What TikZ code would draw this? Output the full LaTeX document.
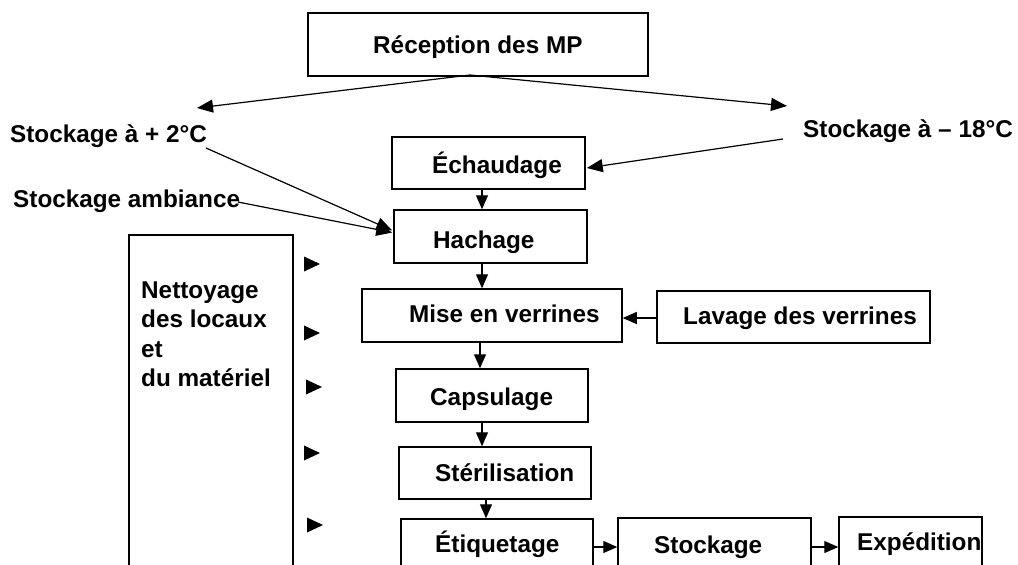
\documentclass[tikz,border=0pt]{standalone}
\usepackage{fontspec}
\setmainfont{Liberation Sans}
\usetikzlibrary{arrows.meta,calc}
\begin{document}
\begin{tikzpicture}[x=1pt,y=-1pt,
  box/.style={draw,line width=1.5pt,rectangle,inner sep=0pt},
  txt/.style={font=\bfseries\fontsize{24.3}{29.3}\selectfont,anchor=base west,inner sep=0pt},
  arr/.style={line width=1.2pt,-{Triangle[length=14pt,width=12pt]}},
  bigarr/.style={line width=1.2pt,-{Triangle[length=16pt,width=13pt]}},
  stub/.style={fill=black},
]
\clip (0,0) rectangle (1018,565);
\fill[white] (0,0) rectangle (1018,565);

% process boxes
\node[box,minimum width=340pt,minimum height=63pt] (rec) at (478,44.5) {};
\node[box,minimum width=193pt,minimum height=52pt] (ech) at (488.5,163) {};
\node[box,minimum width=193pt,minimum height=53pt] (hac) at (490.5,236.5) {};
\node[box,minimum width=260pt,minimum height=53pt] (mev) at (492,315.5) {};
\node[box,minimum width=273pt,minimum height=52pt] (lav) at (793.5,317) {};
\node[box,minimum width=192pt,minimum height=53pt] (cap) at (492,395.5) {};
\node[box,minimum width=192pt,minimum height=52pt] (ste) at (495,473) {};
\node[box,minimum width=192pt,minimum height=81pt] (eti) at (497,559.5) {};
\node[box,minimum width=193pt,minimum height=82pt] (sto) at (714.5,559) {};
\node[box,minimum width=143pt,minimum height=83pt] (exp) at (910.5,558.5) {};
\node[box,minimum width=164pt,minimum height=365pt] (net) at (211,417.5) {};

% labels
\node[txt] (trec) at (373,53) {Réception des MP};
\node[txt] (tp2) at (10,142) {Stockage à + 2°C};
\node[txt] (tm18) at (803,137) {Stockage à – 18°C};
\node[txt] (tamb) at (13,207) {Stockage ambiance};
\node[txt] (tech) at (432,173) {Échaudage};
\node[txt] (thac) at (433,248) {Hachage};
\node[txt] (tmev) at (409,322) {Mise en verrines};
\node[txt] (tlav) at (683,324) {Lavage des verrines};
\node[txt] (tcap) at (430,405) {Capsulage};
\node[txt] (tste) at (435,481) {Stérilisation};
\node[txt] (teti) at (435,552) {Étiquetage};
\node[txt] (tsto) at (654,553) {Stockage};
\node[txt] (texp) at (857,550) {Expédition};
\node[txt,anchor=north west,align=left] (tnet) at (141,281.6)
  {Nettoyage\\des locaux\\et\\du matériel};

% connector end points
\coordinate (rsplit) at (470,75);
\coordinate (p2top) at (197,108);
\coordinate (m18top) at (787,106);
\coordinate (p2out) at (206,148);
\coordinate (ambout) at (238,202);
\coordinate (m18out) at (783,139);
\coordinate (x1) at (482,0);
\coordinate (x2) at (480,0);
\coordinate (x3) at (486,0);

% distribution from reception
\draw[bigarr] (rsplit) -- (p2top);
\draw[bigarr] (rsplit) -- (m18top);
\draw[bigarr] (m18out) -- ($(ech.east)+(1,5)$);
\draw[bigarr] (p2out) -- ($(hac.west)+(-1,-6)$);
\draw[bigarr] (ambout) -- ($(hac.west)+(-1,-4)$);

% main flow
\draw[arr] (ech.south -| x1) -- (hac.north -| x1);
\draw[arr] (hac.south -| x1) -- (mev.north -| x1);
\draw[arr] (mev.south -| x2) -- (cap.north -| x2);
\draw[arr] (cap.south -| x1) -- (ste.north -| x1);
\draw[arr] (ste.south -| x3) -- (eti.north -| x3);
\draw[arr] ($(lav.west)+(0,1)$) -- ($(mev.east)+(0,2.5)$);
\draw[arr] (eti.east |- 0,547) -- (sto.west |- 0,547);
\draw[arr] (sto.east |- 0,547) -- (exp.west |- 0,547);

% cleaning pointers
\foreach \xx/\yy in {304/264, 304/333, 306/387, 304/453, 307/525}
  \fill[stub] (\xx,\yy-7.5) -- (\xx+16,\yy) -- (\xx,\yy+7.5) -- cycle;
\end{tikzpicture}
\end{document}
